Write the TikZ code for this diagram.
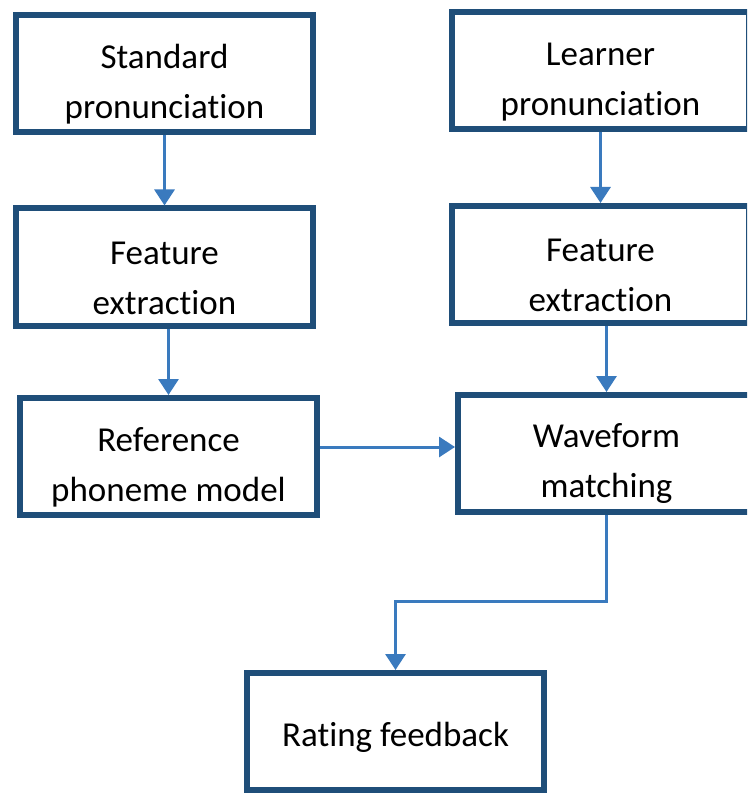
\documentclass[tikz,border=0pt]{standalone}
\usepackage{fontspec}
\setmainfont[Ligatures=NoCommon]{Carlito}
\usepackage{tikz}
\usetikzlibrary{arrows.meta}
\definecolor{boxblue}{RGB}{31,78,121}
\definecolor{arrowblue}{RGB}{58,122,190}
\newcommand{\lift}[1][45pt]{\rule{0pt}{#1}}
\tikzstyle{box}  = [draw=boxblue, line width=6pt, minimum width=297pt, minimum height=117pt,
                    inner sep=0pt, align=center, font=\fontsize{35}{50}\selectfont]
\tikzstyle{flow} = [draw, color=arrowblue, line width=3pt, -{Triangle[width=20pt, length=16pt]}]

\begin{document}
\begin{tikzpicture}[x=1pt, y=-1pt]

\useasboundingbox (0,0) rectangle (747,794);
\clip (0,0) rectangle (747,794);

% nodes
\node [box] at (164.5,  73.5) (std) {\lift Standard\\pronunciation};
\node [box] at (600.5,  70.5) (lrn) {\lift Learner\\pronunciation};
\node [box] at (164.5, 267  ) (fel) {\lift Feature\\extraction};
\node [box] at (600.5, 264.5) (fer) {\lift Feature\\extraction};
\node [box] at (168.5, 456.5) (ref) {\lift Reference\\phoneme model};
\node [box] at (606.5, 453.5) (wav) {\lift Waveform\\matching};
\node [box] at (395.5, 731.5) (rat) {\lift[35pt]Rating feedback};
\coordinate (turn) at (395.5, 601);

% edges
\path (std)                    edge [flow] (fel)
      (lrn)                    edge [flow] (fer)
      (fel.south -| ref)       edge [flow] (ref)
      (fer.south -| wav)       edge [flow] (wav)
      ([yshift=9.5pt]ref.east) edge [flow] ([yshift=9.5pt]ref.east -| wav.west);
\draw [flow] (wav) |- (turn) -- (rat);

\end{tikzpicture}
\end{document}
